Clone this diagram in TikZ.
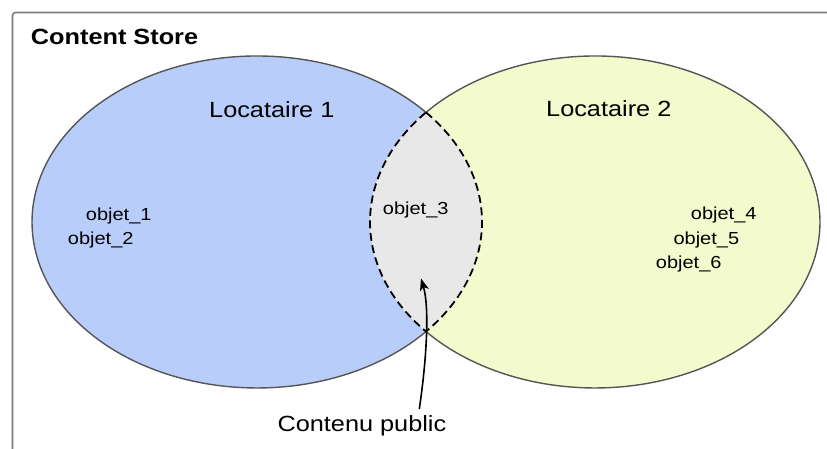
\documentclass[tikz,border=0pt]{standalone}
\usepackage{fontspec}
\setmainfont{Liberation Sans}[FakeStretch=1.15]
\usetikzlibrary{arrows.meta}
\definecolor{bluefill}{RGB}{185,205,251}
\definecolor{yellowfill}{RGB}{243,250,205}
\definecolor{lensfill}{RGB}{232,232,232}
\definecolor{edgegray}{RGB}{85,85,85}
\definecolor{framegray}{RGB}{125,125,125}
\begin{document}
\begin{tikzpicture}[x=1pt,y=1pt,
  txt/.style={inner sep=0pt, anchor=base west, text=black},
  big/.style={txt, font=\fontsize{22}{26}\selectfont},
  small/.style={txt, font=\fontsize{17.4}{20}\selectfont},
  edge/.style={draw=edgegray, line width=1.4pt},
  lensline/.style={draw=black, line width=1.8pt, dash pattern=on 8pt off 4.5pt},
  pointer/.style={draw=black, line width=1.6pt, -{Stealth[length=12pt,width=9pt,inset=3pt]}}
]
\useasboundingbox (0,0) rectangle (827,449);
% frame
\draw[framegray, line width=1.6pt, rounded corners=3pt] (12.5,-10) -- (12.5,436.5) -- (845,436.5);
\node[txt, font=\fontsize{22}{26}\selectfont\bfseries] (title) at (30.7,404) {Content Store};
% ellipse centres
\coordinate (c1) at (257,227);
\coordinate (c2) at (595,227);
\coordinate (ptop) at (426,336.61);
\coordinate (pbot) at (426,117.39);
% fills
\fill[bluefill] (c1) ellipse [x radius=225, y radius=166];
\fill[yellowfill] (c2) ellipse [x radius=225, y radius=166];
\fill[lensfill] (ptop) arc[start angle=41.314, end angle=-41.314, x radius=225, y radius=166]
  arc[start angle=221.314, end angle=138.686, x radius=225, y radius=166] -- cycle;
% solid outer borders
\draw[edge] (ptop) arc[start angle=41.314, end angle=318.686, x radius=225, y radius=166];
\draw[edge] (ptop) arc[start angle=138.686, end angle=-138.686, x radius=225, y radius=166];
% dashed lens border
\draw[lensline] (ptop) arc[start angle=41.314, end angle=-41.314, x radius=225, y radius=166]
  arc[start angle=221.314, end angle=138.686, x radius=225, y radius=166];
% labels
\node[big] (loc1) at (209,331.3) {Locataire 1};
\node[big] (loc2) at (546,332) {Locataire 2};
\node[small] (o1) at (85.7,228) {objet\_1};
\node[small] (o2) at (67.7,204) {objet\_2};
\node[small] (o3) at (382.7,234) {objet\_3};
\node[small] (o4) at (690.7,229) {objet\_4};
\node[small] (o5) at (673.3,204) {objet\_5};
\node[small] (o6) at (655.7,180) {objet\_6};
\node[big] (pub) at (277.3,17.3) {Contenu public};
% arrow
\coordinate (tail) at (419.3,40);
\coordinate (tip) at (421,170.5);
\draw[pointer] (tail) .. controls (426,85) and (430,140) .. (tip);
\end{tikzpicture}
\end{document}
